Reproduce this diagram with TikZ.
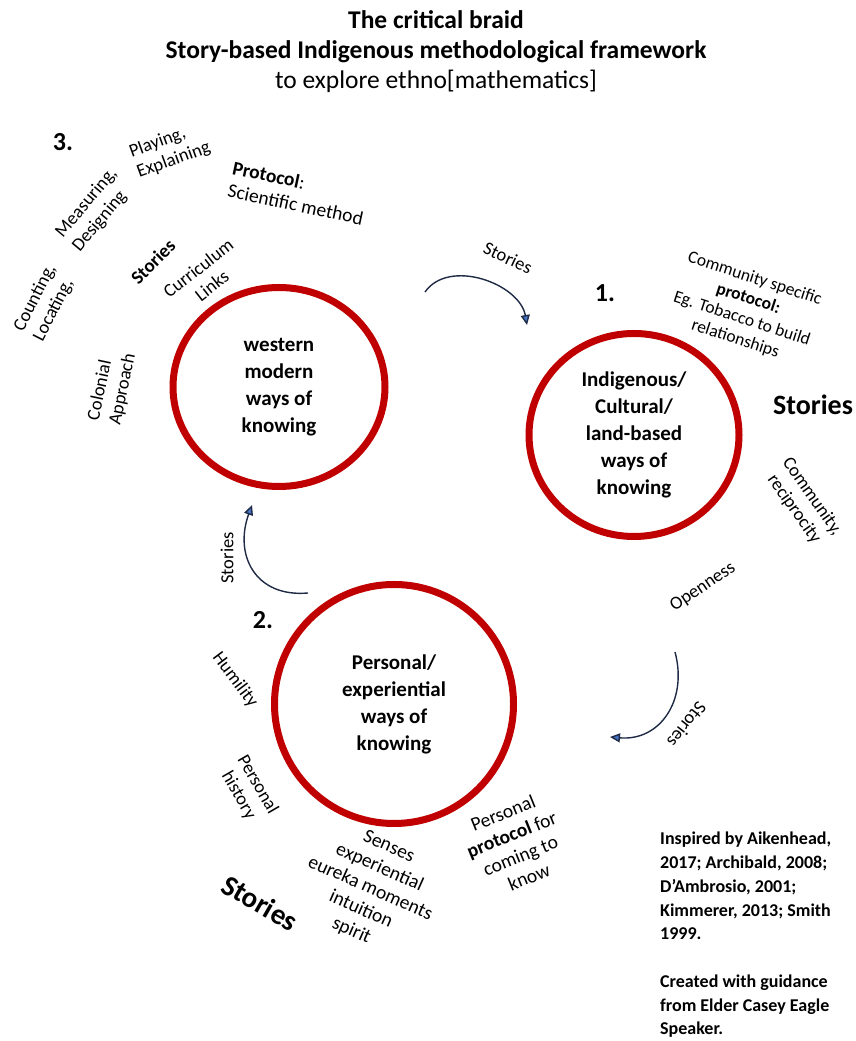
\documentclass[tikz,border=0pt]{standalone}
\usepackage{fontspec}
\setmainfont{Carlito}
\usetikzlibrary{arrows.meta,shapes.geometric}

\definecolor{braidred}{RGB}{192,0,0}
\definecolor{arrowline}{RGB}{31,42,68}
\definecolor{arrowblue}{RGB}{68,114,196}

\begin{document}
\begin{tikzpicture}[x=1pt,y=1pt,
  way/.style={ellipse, draw=braidred, line width=7pt, align=center, inner sep=0pt,
    font=\fontsize{21}{27}\selectfont\bfseries},
  lbl/.style={align=center, inner sep=0pt, font=\fontsize{18.5}{22}\selectfont},
  biglbl/.style={lbl, font=\fontsize{19.5}{23}\selectfont},
  num/.style={inner sep=0pt, font=\fontsize{26}{26}\selectfont\bfseries},
  bigstory/.style={inner sep=0pt, font=\fontsize{28}{28}\selectfont\bfseries},
  storyarrow/.style={draw=arrowline, line width=1.4pt,
    -{Triangle[length=10pt,width=9pt,fill=arrowblue]}}
]
\useasboundingbox (0,0) rectangle (856,1041);

\node[align=center, inner sep=0pt, font=\fontsize{25.5}{30}\selectfont] (title) at (436,989)
  {\textbf{The critical braid}\\\textbf{Story-based Indigenous methodological framework}\\to explore ethno[mathematics]};

% the three ways of knowing
\node[way, minimum width=212pt, minimum height=199pt] (western) at (279,654) {western\\modern\\ways of\\knowing};
\node[way, minimum width=210pt, minimum height=203pt] (indigenous) at (634,606) {Indigenous/\\Cultural/\\land-based\\ways of\\knowing};
\node[way, minimum width=239pt, minimum height=239pt] (personal) at (394,337) {Personal/\\experiential\\ways of\\knowing};

% 3. western
\node[num] (three) at (63,899) {3.};
\node[lbl, align=left, rotate=20] (playing) at (170,891) {Playing,\\Explaining};
\node[lbl, align=left, rotate=50] (measuring) at (95,831) {Measuring,\\Designing};
\node[biglbl, align=left, rotate=-12] (sciprotocol) at (298,848) {\textbf{Protocol}:\\Scientific method};
\node[lbl, rotate=45, font=\fontsize{19}{21}\selectfont\bfseries] (weststories) at (153,779) {Stories};
\node[lbl, rotate=38] (curriculum) at (205,764) {Curriculum\\Links};
\node[lbl, align=left, rotate=63] (counting) at (45,738) {Counting,\\Locating,};
\node[lbl, align=left, rotate=78] (colonial) at (112,654) {Colonial\\Approach};

% 1. indigenous
\node[num] (one) at (605,748) {1.};
\node[lbl, font=\fontsize{17.5}{21}\selectfont, rotate=-18] (comprotocol) at (745,732) {Community specific\\\textbf{protocol:}\\Eg. Tobacco to build\\relationships};
\node[bigstory] (rightstories) at (813,636) {Stories};
\node[lbl, rotate=-55] (reciprocity) at (803,538) {Community,\\reciprocity};
\node[lbl, rotate=34] (openness) at (703,454) {Openness};

% 2. personal
\node[num] (two) at (263,421) {2.};
\node[lbl, rotate=-53] (humility) at (235,361) {Humility};
\node[lbl, rotate=-60] (history) at (248,251) {Personal\\history};
\node[bigstory, font=\fontsize{29}{29}\selectfont\bfseries, rotate=-30] (lowstories) at (260,138) {Stories};
\node[biglbl, rotate=-24] (senses) at (370,152) {Senses\\experiential\\eureka moments\\intuition\\spirit};
\node[biglbl, rotate=22] (perprotocol) at (516,196) {Personal\\\textbf{protocol} for\\coming to\\know};

% stories arrows
\coordinate (topfrom) at (425,749);
\coordinate (topto) at (527,716);
\draw[storyarrow] (topfrom) to[out=55, in=100] (topto);
\node[lbl, rotate=-25] (topstories) at (508,783) {Stories};

\coordinate (leftfrom) at (308,448);
\coordinate (leftto) at (252,536);
\draw[storyarrow] (leftfrom) to[out=185, in=250, looseness=1.3] (leftto);
\node[lbl, rotate=90] (leftstories) at (227,483) {Stories};

\coordinate (rightfrom) at (675,389);
\coordinate (rightto) at (610,304);
\draw[storyarrow] (rightfrom) to[out=-75, in=-5, looseness=1.2] (rightto);
\node[lbl, rotate=-128] (rightarrowstories) at (687,316) {Stories};

% credits
\node[anchor=north west, align=left, inner sep=0pt, font=\fontsize{18}{23.75}\selectfont\bfseries] (credits) at (660,209)
  {Inspired by Aikenhead,\\2017; Archibald, 2008;\\D’Ambrosio, 2001;\\Kimmerer, 2013; Smith\\1999.\\[23.75pt]Created with guidance\\from Elder Casey Eagle\\Speaker.};

\end{tikzpicture}
\end{document}
